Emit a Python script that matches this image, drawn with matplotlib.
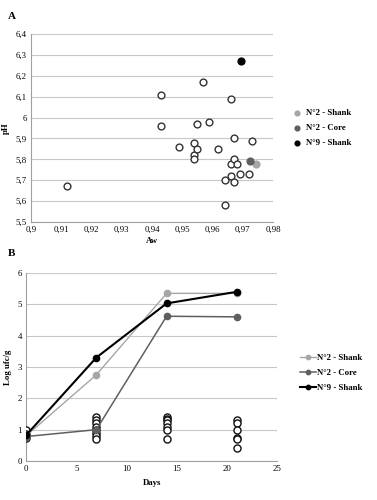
import matplotlib.pyplot as plt
from matplotlib.ticker import FuncFormatter

plt.rcParams['font.family'] = ['Liberation Serif', 'DejaVu Serif']

# panel A: Aw vs pH
aw_open = [0.912, 0.943, 0.943, 0.949, 0.954, 0.954, 0.954, 0.955, 0.955, 0.957,
           0.959, 0.962, 0.964, 0.964, 0.966, 0.966, 0.966, 0.967, 0.967, 0.967,
           0.968, 0.969, 0.972, 0.973]
ph_open = [5.67, 6.11, 5.96, 5.86, 5.88, 5.82, 5.80, 5.85, 5.97, 6.17,
           5.98, 5.85, 5.70, 5.58, 6.09, 5.78, 5.72, 5.90, 5.80, 5.69,
           5.78, 5.73, 5.73, 5.89]
labels = ['N°2 - Shank', 'N°2 - Core', 'N°9 - Shank']
colors = ['#a6a6a6', '#5f5f5f', '#000000']
aw_sel = [0.9745, 0.9725, 0.9695]
ph_sel = [5.78, 5.79, 6.27]

# panel B: growth curves
days = [0, 7, 14, 21]
log_sel = [[0.80, 2.75, 5.35, 5.35],
           [0.78, 1.00, 4.62, 4.60],
           [0.82, 3.30, 5.03, 5.40]]
days_open = [0, 0, 0,
             7, 7, 7, 7, 7, 7, 7, 7,
             14, 14, 14, 14, 14, 14, 14,
             21, 21, 21, 21, 21, 21]
log_open = [1.0, 0.85, 0.75,
            1.4, 1.3, 1.2, 1.1, 1.0, 0.9, 0.8, 0.7,
            1.4, 1.35, 1.3, 1.2, 1.1, 1.0, 0.7,
            1.3, 1.2, 1.0, 0.75, 0.7, 0.4]

comma = FuncFormatter(lambda v, p: ('%g' % round(v, 3)).replace('.', ','))
fs = 6.3

fig = plt.figure(figsize=(3.77, 5.0), dpi=100)


def style(ax):
    ax.grid(axis='y', color='#c8c8c8', linewidth=0.8)
    ax.set_axisbelow(True)
    for s in ['top', 'right']:
        ax.spines[s].set_visible(False)
    for s in ['left', 'bottom']:
        ax.spines[s].set_color('#a0a0a0')
        ax.spines[s].set_linewidth(0.8)
    ax.tick_params(length=0, labelsize=fs, pad=3)


ax1 = fig.add_axes([0.082, 0.556, 0.642, 0.376])
style(ax1)
ax1.scatter(aw_open, ph_open, s=24, facecolors='white', edgecolors='#333333', linewidths=1.0, zorder=3)
for i in range(3):
    ax1.scatter(aw_sel[i], ph_sel[i], s=24, color=colors[i], label=labels[i], zorder=4)
ax1.set_xlim(0.9, 0.98)
ax1.set_ylim(5.5, 6.4)
ax1.set_xticks([0.9 + 0.01 * i for i in range(9)])
ax1.set_yticks([5.5 + 0.1 * i for i in range(10)])
ax1.xaxis.set_major_formatter(comma)
ax1.yaxis.set_major_formatter(comma)
ax1.set_xlabel('Aw', fontsize=fs, fontweight='bold', labelpad=2)
ax1.set_ylabel('pH', fontsize=fs, fontweight='bold', labelpad=4)
ax1.legend(loc='center left', bbox_to_anchor=(1.03, 0.5), frameon=False,
           prop={'weight': 'bold', 'size': fs}, handletextpad=0.0, labelspacing=0.8,
           markerscale=0.7)
fig.text(0.02, 0.962, 'A', fontsize=8, fontweight='bold')

ax2 = fig.add_axes([0.069, 0.078, 0.666, 0.376])
style(ax2)
ax2.scatter(days_open, log_open, s=26, facecolors='white', edgecolors='#111111', linewidths=1.0, zorder=3)
widths = [1.0, 1.1, 1.5]
for i in range(3):
    ax2.plot(days, log_sel[i], color=colors[i], linewidth=widths[i], marker='o',
             markersize=4.5, label=labels[i], zorder=4 + i)
ax2.set_xlim(0, 25)
ax2.set_ylim(0, 6)
ax2.set_xticks(range(0, 26, 5))
ax2.set_yticks(range(0, 7))
ax2.set_xlabel('Days', fontsize=fs, fontweight='bold', labelpad=4)
ax2.set_ylabel('Log ufc/g', fontsize=fs, fontweight='bold', labelpad=4)
ax2.legend(loc='center left', bbox_to_anchor=(1.06, 0.47), frameon=False,
           prop={'weight': 'bold', 'size': fs}, handlelength=1.8, handletextpad=0.1,
           labelspacing=0.8, markerscale=0.7)
fig.text(0.02, 0.488, 'B', fontsize=8, fontweight='bold')

fig.savefig('out.png', dpi=100)
